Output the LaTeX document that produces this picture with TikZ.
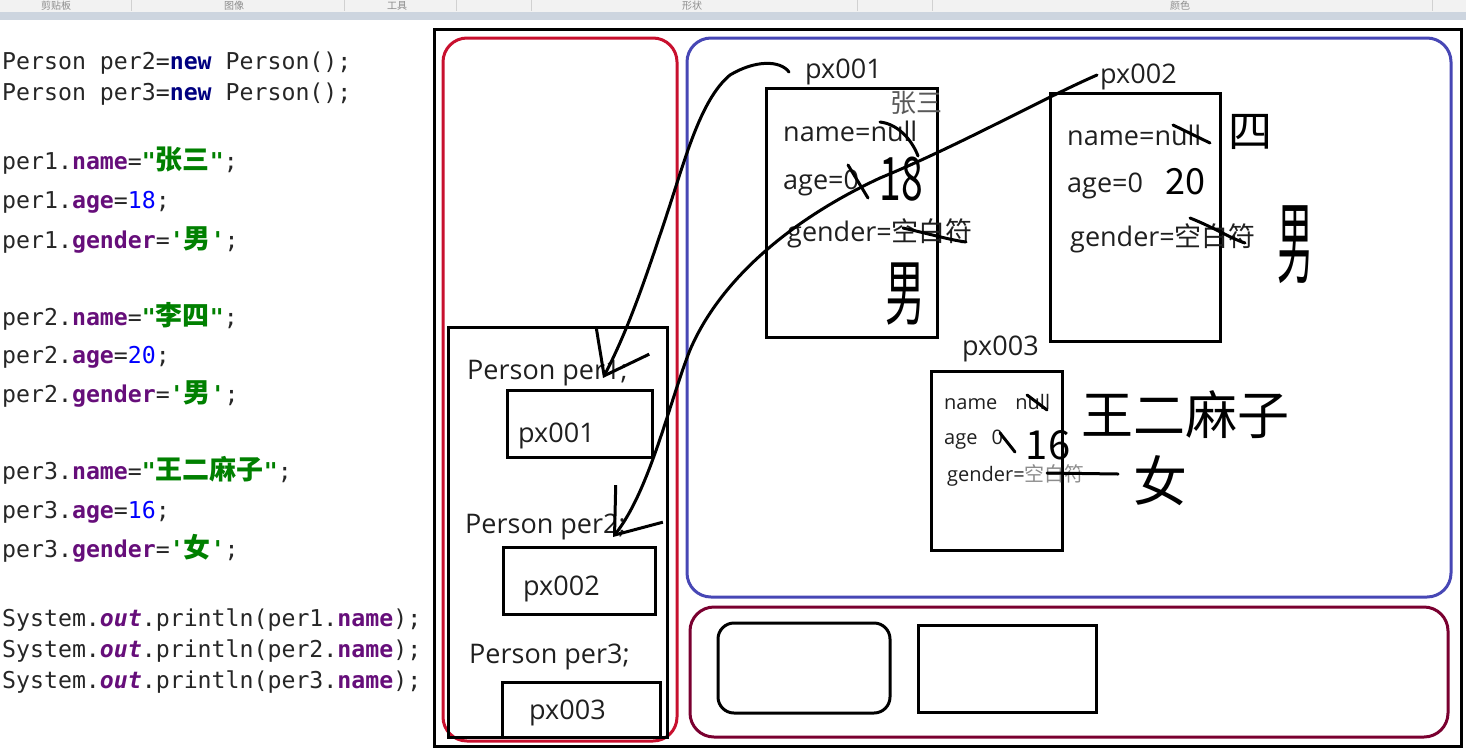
\documentclass[tikz,border=0pt]{standalone}
\usepackage{fontspec}
\usetikzlibrary{arrows.meta}
\newfontfamily\codefont{DejaVu Sans Mono}[Ligatures=TeXOff]
\newfontfamily\uifont{Open Sans}
\newfontfamily\cjk{Noto Sans CJK SC}
\definecolor{kwblue}{HTML}{000080}
\definecolor{fldpurple}{HTML}{660E7A}
\definecolor{strgreen}{HTML}{008000}
\definecolor{numblue}{HTML}{0000FF}
\definecolor{stackred}{HTML}{C8102E}
\definecolor{heapblue}{HTML}{4747B5}
\definecolor{methodred}{HTML}{7A0030}
\definecolor{toolbar}{RGB}{205,213,223}
\newcommand\hz[1]{{\cjk\fontsize{27}{28}\selectfont#1}}
\newcommand\zi[1]{{\cjk#1}}
\newcommand\kw[1]{\textcolor{kwblue}{\bfseries#1}}
\newcommand\fld[1]{\textcolor{fldpurple}{\bfseries#1}}
\newcommand\strg[1]{\textcolor{strgreen}{\bfseries#1}}
\newcommand\numb[1]{\textcolor{numblue}{#1}}
\newcommand\outf[1]{\textcolor{fldpurple}{\bfseries\itshape#1}}

\begin{document}
\begin{tikzpicture}[x=1pt,y=-1pt,
  code/.style={anchor=west,inner sep=0,text height=20pt,text depth=2pt,font=\codefont\fontsize{23.2}{28}\selectfont,text=black!85},
  ui/.style={anchor=west,inner sep=0,text height=25pt,text depth=6pt,font=\uifont\fontsize{27}{30}\selectfont,text=black!88},
  uismall/.style={ui,text height=19pt,text depth=5pt,font=\uifont\fontsize{20}{24}\selectfont},
  box/.style={draw,line width=3pt,inner sep=0},
  area/.style={draw,line width=3pt,rounded corners=24pt,inner sep=0},
  hand/.style={line width=3pt,line cap=round,line join=round},
  scrawl/.style={inner sep=0,font={\cjk\fontsize{#1}{#1}\selectfont}},
  ptr/.style={hand,-{Straight Barb[length=40pt,width=60pt]}}]
\useasboundingbox (0,0) rectangle (1466,750);
\fill[black!5] (0,0) rectangle (1466,12);
\fill[toolbar] (0,12) rectangle (1466,20);
\foreach \x/\t in {56/剪贴板,234/图像,397/工具,692/形状,1180/颜色}
  \node[inner sep=0,font=\cjk\fontsize{10}{11}\selectfont,text=black!45] (tb\x) at (\x,5.5) {\t};
\foreach \x in {131,344,456,531,857,932,1432} \draw[black!18] (\x,0) -- (\x,11);

\node[code] (c1) at (2,60) {Person per2=\kw{new} Person();};
\node[code] (c2) at (2,91) {Person per3=\kw{new} Person();};
\node[code] (c3) at (2,160) {per1.\fld{name}=\strg{"\hz{张三}"};};
\node[code] (c4) at (2,199) {per1.\fld{age}=\numb{18};};
\node[code] (c5) at (2,239) {per1.\fld{gender}=\strg{'\hz{男}'};};
\node[code] (c6) at (2,316) {per2.\fld{name}=\strg{"\hz{李四}"};};
\node[code] (c7) at (2,354) {per2.\fld{age}=\numb{20};};
\node[code] (c8) at (2,393) {per2.\fld{gender}=\strg{'\hz{男}'};};
\node[code] (c9) at (2,470) {per3.\fld{name}=\strg{"\hz{王二麻子}"};};
\node[code] (c10) at (2,509) {per3.\fld{age}=\numb{16};};
\node[code] (c11) at (2,548) {per3.\fld{gender}=\strg{'\hz{女}'};};
\node[code] (c12) at (2,617) {System.\outf{out}.println(per1.\fld{name});};
\node[code] (c13) at (2,648) {System.\outf{out}.println(per2.\fld{name});};
\node[code] (c14) at (2,679) {System.\outf{out}.println(per3.\fld{name});};

\node[box,minimum width=1027pt,minimum height=717pt] (board) at (947.5,387.5) {};
\node[area,draw=stackred,minimum width=234pt,minimum height=703pt] (stack) at (560,389.5) {};
\node[area,draw=heapblue,minimum width=764pt,minimum height=559pt] (heap) at (1069,317.5) {};
\node[area,draw=methodred,minimum width=758pt,minimum height=130pt] (method) at (1069,672) {};
\node[area,rounded corners=16pt,minimum width=172pt,minimum height=90pt] (slot1) at (804,668) {};
\node[box,minimum width=178pt,minimum height=87pt] (slot2) at (1007,668.5) {};

\node[box,minimum width=219pt,minimum height=410pt] (frame) at (557.5,532) {};
\node[ui] (per1) at (467,370) {Person per1;};
\node[box,minimum width=145pt,minimum height=67pt] (ref1) at (579.5,423.5) {};
\node[ui] (v1) at (518,433) {px001};
\node[ui] (per2) at (465,524) {Person per2;};
\node[box,minimum width=152pt,minimum height=67pt] (ref2) at (579,580.5) {};
\node[ui] (v2) at (523,586) {px002};
\node[ui] (per3) at (469,654) {Person per3;};
\node[box,minimum width=158pt,minimum height=55pt] (ref3) at (581,709.5) {};
\node[ui] (v3) at (529,710) {px003};

\node[ui] (lbl1) at (805,69) {px001};
\node[box,minimum width=171pt,minimum height=249pt] (obj1) at (851.5,212.5) {};
\node[inner sep=0,font=\cjk\fontsize{26}{28}\selectfont,text=black!65] (zs) at (916,103) {张三};
\node[ui] (n1) at (783,132) {name=null};
\node[ui] (a1) at (783,180) {age=0};
\node[ui] (g1) at (787,232) {gender=\zi{空白符}};
\node[ui] (lbl2) at (1100,74) {px002};
\node[box,minimum width=170pt,minimum height=248pt] (obj2) at (1135,217) {};
\node[ui] (n2) at (1067,136) {name=null};
\node[ui] (a2) at (1067,183) {age=0};
\node[ui] (g2) at (1070,237) {gender=\zi{空白符}};
\node[ui] (lbl3) at (962,346) {px003};
\node[box,minimum width=131pt,minimum height=179pt] (obj3) at (996.5,460.5) {};
\node[uismall] (n3) at (944,402) {name\hspace{18pt}null};
\node[uismall] (a3) at (944,437) {age\hspace{14pt}0};
\node[uismall] (g3) at (947,474) {gender=\textcolor{black!45}{\zi{空白符}}};

\draw[hand] (880,122) .. controls (898,124) and (912,140) .. (918,156);
\draw[hand] (848,165) -- (868,198);
\node[scrawl=60] (h18) at (901,179) {\scalebox{0.65}[1]{18}};
\draw[hand] (903,228) .. controls (930,234) and (950,240) .. (966,242);
\node[scrawl=72] (m1) at (905,294) {\scalebox{0.55}[1]{男}};
\draw[hand] (1173,125) -- (1210,143);
\node[scrawl=44] (s4) at (1250,132) {四};
\node[scrawl=36] (h20) at (1185,182) {20};
\draw[hand] (1190,218) .. controls (1215,228) and (1230,238) .. (1245,243);
\node[scrawl=90] (m2) at (1295,245) {\scalebox{0.4}[1]{男}};
\draw[hand] (1027,395) -- (1047,410);
\draw[hand] (1000,433) -- (1015,452);
\node[scrawl=40] (h16) at (1048,445) {16};
\draw[hand] (1047,473) -- (1118,474);
\node[scrawl=52] (wang) at (1185,415) {王二麻子};
\node[scrawl=54] (nv) at (1160,481) {女};

\coordinate (tip1) at (603,378);
\coordinate (tip2) at (613,537);
\draw[ptr] ([shift={(-16,3)}]lbl1.west) .. controls (780,60) and (755,60) .. (730,75) .. controls (700,100) and (685,160) .. (665,220) .. controls (645,280) and (628,330) .. (tip1);
\draw[ptr] ([shift={(-3,1)}]lbl2.west) .. controls (1040,100) and (960,145) .. (880,178) .. controls (790,220) and (720,280) .. (690,350) .. controls (670,400) and (650,490) .. (tip2);
\end{tikzpicture}
\end{document}
